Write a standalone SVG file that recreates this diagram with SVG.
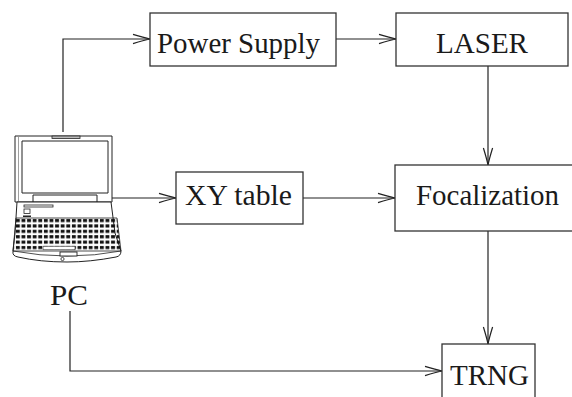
<svg xmlns="http://www.w3.org/2000/svg" width="572" height="397" viewBox="0 0 572 397">
  <style>
    .box { fill: #fff; stroke: #333; stroke-width: 1.3; }
    .lbl { font-family: "Liberation Serif", "Times New Roman", serif; font-size: 29px; fill: #1a1a1a; }
    .wire { fill: none; stroke: #222; stroke-width: 1.2; }
    .lap { fill: #fff; stroke: #222; stroke-width: 1; stroke-linejoin: round; }
  </style>
  <defs>
    <marker id="arrow" markerUnits="userSpaceOnUse" markerWidth="20" markerHeight="12" viewBox="-18 -6 20 12" refX="0" refY="0" orient="auto">
      <path d="M -17,-4.6 Q -6,-1.2 0,0 Q -6,1.2 -17,4.6" fill="none" stroke="#222" stroke-width="1.2"/>
    </marker>
    <pattern id="keys" patternUnits="userSpaceOnUse" x="15" y="218" width="5.6" height="5.4">
      <rect x="0.9" y="1" width="3.9" height="3.1" fill="#111"/>
    </pattern>
    <clipPath id="kbclip">
      <polygon points="16,218 117,218 121,251 13,251"/>
    </clipPath>
  </defs>

  <!-- connectors -->
  <g id="connectors">
    <path class="wire" d="M 63,132 V 39 H 150" marker-end="url(#arrow)"/>
    <path class="wire" d="M 336,39 H 396" marker-end="url(#arrow)"/>
    <path class="wire" d="M 488,66 V 165" marker-end="url(#arrow)"/>
    <path class="wire" d="M 112,198 H 176" marker-end="url(#arrow)"/>
    <path class="wire" d="M 303,198 H 395" marker-end="url(#arrow)"/>
    <path class="wire" d="M 488,231 V 344" marker-end="url(#arrow)"/>
    <path class="wire" d="M 70,311 V 371 H 442" marker-end="url(#arrow)"/>
  </g>

  <!-- PC: laptop line drawing with label -->
  <g id="pc">
    <!-- lid -->
    <rect class="lap" x="15" y="136" width="97" height="66"/>
    <line x1="18.5" y1="137" x2="18.5" y2="201" stroke="#888" stroke-width="0.8"/>
    <rect class="lap" x="22" y="141" width="86" height="52"/>
    <rect x="52" y="136" width="28" height="2.4" fill="#bbb" stroke="#222" stroke-width="0.8"/>
    <!-- hinge -->
    <rect class="lap" x="33" y="195" width="64" height="7"/>
    <!-- base -->
    <path class="lap" d="M 17,202 H 111 L 115,233 L 121,251 Q 121,256 116,257 Q 90,262 67,262 Q 40,262 18,257 Q 12,256 13,251 L 15,233 Z"/>
    <path d="M 13,251 Q 40,256 67,256 Q 95,256 121,251" fill="none" stroke="#222" stroke-width="0.8"/>
    <rect x="24" y="205" width="29" height="2" fill="#fff" stroke="#222" stroke-width="0.8"/>
    <rect x="24" y="209" width="6" height="4.5" fill="#fff" stroke="#222" stroke-width="0.8"/>
    <rect x="23" y="215.5" width="8" height="1.5" fill="#222"/>
    <!-- keyboard -->
    <rect x="10" y="216" width="115" height="36" fill="url(#keys)" clip-path="url(#kbclip)"/>
    <polygon points="16,218 117,218 121,251 13,251" fill="none" stroke="#222" stroke-width="0.8"/>
    <rect x="43" y="246.2" width="32" height="3.6" fill="#fff" stroke="#222" stroke-width="0.6"/>
    <!-- latch -->
    <rect x="60" y="252" width="17" height="4" fill="#fff" stroke="#222" stroke-width="0.9"/>
    <circle cx="62.5" cy="259" r="1.6" fill="#fff" stroke="#222" stroke-width="0.8"/>
    <text class="lbl" x="50" y="305" textLength="38" lengthAdjust="spacingAndGlyphs">PC</text>
  </g>

  <g id="power-supply">
    <rect class="box" x="150" y="13" width="186" height="53"/>
    <text class="lbl" x="157" y="53" textLength="163" lengthAdjust="spacingAndGlyphs">Power Supply</text>
  </g>

  <g id="laser">
    <rect class="box" x="396" y="13" width="172" height="53"/>
    <text class="lbl" x="436" y="53" textLength="92" lengthAdjust="spacingAndGlyphs">LASER</text>
  </g>

  <g id="xy-table">
    <rect class="box" x="176" y="172" width="127" height="52"/>
    <text class="lbl" x="185" y="205" textLength="107" lengthAdjust="spacingAndGlyphs">XY table</text>
  </g>

  <g id="focalization">
    <rect class="box" x="395" y="165" width="200" height="66"/>
    <text class="lbl" x="416" y="205" textLength="143" lengthAdjust="spacingAndGlyphs">Focalization</text>
  </g>

  <g id="trng">
    <rect class="box" x="442" y="344" width="93" height="70"/>
    <text class="lbl" x="450" y="385" textLength="79" lengthAdjust="spacingAndGlyphs">TRNG</text>
  </g>
</svg>
